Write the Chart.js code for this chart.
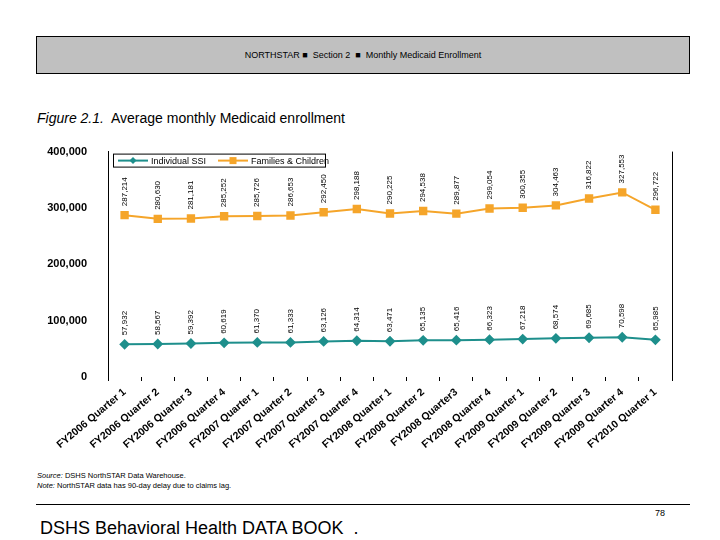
<!DOCTYPE html>
<html>
<head>
<meta charset="utf-8">
<script src="https://cdn.jsdelivr.net/npm/chart.js@4.4.1/dist/chart.umd.min.js"></script>
<style>
  body { margin: 0; width: 720px; height: 540px; background: #fff; position: relative; font-family: "Liberation Sans", Arial, sans-serif; overflow: hidden; color: #000; }
  .header { position: absolute; left: 36px; top: 36px; width: 652px; height: 36px; background: #c0c0c0; border: 1px solid #000; font-size: 9px; text-align: center; line-height: 36px; color: #000; }
  .title { position: absolute; left: 37px; top: 110px; font-size: 14px; color: #000; }
  .chart-box { position: absolute; left: 30px; top: 132px; width: 660px; height: 320px; }
  .notes { position: absolute; left: 37px; top: 471px; font-size: 7.5px; line-height: 10px; color: #000; }
  .rule { position: absolute; left: 36px; top: 504px; width: 654px; height: 0; border-top: 1px solid #000; }
  .page { position: absolute; left: 655px; top: 508px; font-size: 9px; }
  .book { position: absolute; left: 40px; top: 518px; font-size: 18px; color: #000; }
</style>
</head>
<body>
<div class="header">NORTHSTAR ■&nbsp; Section 2 &nbsp;■&nbsp; Monthly Medicaid Enrollment</div>
<div class="title"><i>Figure 2.1.</i>&nbsp; Average monthly Medicaid enrollment</div>
<div class="chart-box"><canvas id="enrollChart" width="660" height="320"></canvas></div>
<div class="notes"><i>Source:</i> DSHS NorthSTAR Data Warehouse.<br><i>Note:</i> NorthSTAR data has 90-day delay due to claims lag.</div>
<div class="rule"></div>
<div class="page">78</div>
<div class="book">DSHS Behavioral Health DATA BOOK &nbsp;.</div>

<script>
// Trimestres
const quarters = [
    'FY2006 Quarter 1', 'FY2006 Quarter 2', 'FY2006 Quarter 3', 'FY2006 Quarter 4',
    'FY2007 Quarter 1', 'FY2007 Quarter 2', 'FY2007 Quarter 3', 'FY2007 Quarter 4',
    'FY2008 Quarter 1', 'FY2008 Quarter 2', 'FY2008 Quarter3', 'FY2008 Quarter 4',
    'FY2009 Quarter 1', 'FY2009 Quarter 2', 'FY2009 Quarter 3', 'FY2009 Quarter 4',
    'FY2010 Quarter 1'
];

// Séries
const individualSSI = [57932, 58567, 59392, 60619, 61370, 61333, 63126, 64314, 63471,
    65135, 65416, 66323, 67218, 68574, 69685, 70598, 65985];
const familiesChildren = [287214, 280630, 281181, 285252, 285726, 286653, 292450, 298188, 290225,
    294538, 289877, 299054, 300355, 304463, 316822, 327553, 296722];

const yTicks = [0, 100000, 200000, 300000, 400000];

const tealColor = '#1e8f8c';
const orangeColor = '#f5a52a';
const fontFamily = '"Liberation Sans", Arial, sans-serif';

// Étiquettes verticales au-dessus des points
const valueLabels = {
    id: 'valueLabels',
    afterDatasetsDraw(chart) {
        const ctx = chart.ctx;
        ctx.save();
        ctx.font = '8px ' + fontFamily;
        ctx.fillStyle = '#000';
        ctx.textAlign = 'left';
        ctx.textBaseline = 'middle';
        chart.data.datasets.forEach((ds, i) => {
            chart.getDatasetMeta(i).data.forEach((pt, j) => {
                ctx.save();
                ctx.translate(pt.x, pt.y - 9);
                ctx.rotate(-Math.PI / 2);
                ctx.fillText(ds.data[j].toLocaleString('en-US'), 0, 0);
                ctx.restore();
            });
        });
        ctx.restore();
    }
};

// Cadre droit et légende dans la zone du graphique
const frameAndLegend = {
    id: 'frameAndLegend',
    afterDraw(chart) {
        const ctx = chart.ctx;
        const area = chart.chartArea;
        ctx.save();
        ctx.strokeStyle = '#000';
        ctx.lineWidth = 1;
        ctx.beginPath();
        ctx.moveTo(Math.round(area.right) + 0.5, area.top);
        ctx.lineTo(Math.round(area.right) + 0.5, area.bottom);
        ctx.stroke();

        const lx = area.left + 5, ly = area.top + 2;
        ctx.fillStyle = '#fff';
        ctx.fillRect(lx, ly, 212, 13);
        ctx.strokeRect(lx + 0.5, ly + 0.5, 212, 13);
        ctx.font = '9px ' + fontFamily;
        ctx.textBaseline = 'middle';
        ctx.textAlign = 'left';
        const cy = ly + 7;
        const items = [{ x: lx + 5, ds: chart.data.datasets[0] }, { x: lx + 105, ds: chart.data.datasets[1] }];
        items.forEach(it => {
            ctx.strokeStyle = it.ds.borderColor;
            ctx.lineWidth = 2;
            ctx.beginPath();
            ctx.moveTo(it.x, cy);
            ctx.lineTo(it.x + 30, cy);
            ctx.stroke();
            ctx.fillStyle = it.ds.borderColor;
            const mx = it.x + 15;
            if (it.ds.pointStyle === 'rectRot') {
                ctx.beginPath();
                ctx.moveTo(mx, cy - 3.5);
                ctx.lineTo(mx + 3.5, cy);
                ctx.lineTo(mx, cy + 3.5);
                ctx.lineTo(mx - 3.5, cy);
                ctx.closePath();
                ctx.fill();
            } else {
                ctx.fillRect(mx - 3.5, cy - 3.5, 7, 7);
            }
            ctx.fillStyle = '#000';
            ctx.fillText(it.ds.label, it.x + 33, cy + 0.5);
        });
        ctx.restore();
    }
};

const ctx = document.getElementById('enrollChart').getContext('2d');
new Chart(ctx, {
    type: 'line',
    data: {
        labels: quarters,
        datasets: [{
            label: 'Individual SSI',
            data: individualSSI,
            borderColor: tealColor,
            backgroundColor: tealColor,
            borderWidth: 2,
            pointStyle: 'rectRot',
            pointRadius: 4,
            tension: 0
        }, {
            label: 'Families & Children',
            data: familiesChildren,
            borderColor: orangeColor,
            backgroundColor: orangeColor,
            borderWidth: 2,
            pointStyle: 'rect',
            pointRadius: 4.5,
            tension: 0
        }]
    },
    options: {
        responsive: false,
        animation: false,
        layout: { padding: { top: 2, right: 18, left: 0, bottom: 0 } },
        plugins: {
            legend: { display: false },
            tooltip: { enabled: false }
        },
        scales: {
            x: {
                offset: true,
                grid: { display: true, drawOnChartArea: false, drawTicks: true, tickLength: 4, color: '#000', offset: true },
                border: { display: false },
                ticks: {
                    autoSkip: false,
                    minRotation: 40,
                    maxRotation: 40,
                    padding: 5,
                    color: '#000',
                    font: { family: fontFamily, size: 10.5, weight: 'bold' }
                },
                afterFit(scale) { scale.height = 75; }
            },
            y: {
                min: 0,
                max: 400000,
                afterBuildTicks(scale) { scale.ticks = yTicks.map(v => ({ value: v })); },
                grid: { display: false },
                border: { display: true, color: '#000', width: 1 },
                ticks: {
                    padding: 13,
                    color: '#000',
                    font: { family: fontFamily, size: 11, weight: 'bold' },
                    callback: v => v.toLocaleString('en-US')
                },
                afterFit(scale) { scale.width = 78; }
            }
        }
    },
    plugins: [valueLabels, frameAndLegend]
});
</script>
</body>
</html>
